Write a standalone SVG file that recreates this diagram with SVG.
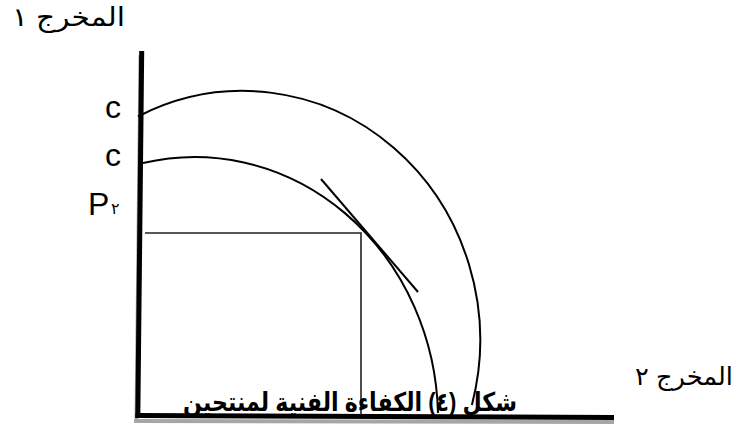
<svg xmlns="http://www.w3.org/2000/svg" width="753" height="429" viewBox="0 0 753 429">
<style>
.lbl{font-family:"Liberation Sans",Arial,sans-serif;fill:#000}
.ar{font-family:"Liberation Sans","DejaVu Sans",sans-serif;fill:#000}
.curve{fill:none;stroke:#000;stroke-width:2}
.thin{fill:none;stroke:#222;stroke-width:1.6}
</style>
<rect width="753" height="429" fill="#fff"/>
<g id="axes">
<line x1="140.5" y1="55" x2="136.5" y2="423" stroke="#a6a6a6" stroke-width="4"/>
<line x1="134" y1="421" x2="614" y2="422" stroke="#a6a6a6" stroke-width="4"/>
<line x1="141.7" y1="51" x2="137.8" y2="418" stroke="#000" stroke-width="5"/>
<line x1="135.5" y1="415.5" x2="614" y2="417.5" stroke="#000" stroke-width="5"/>
</g>
<g id="connectors">
<path class="curve" d="M138,116.5 A237.4,249 0 0 1 471.9,405"/>
<path class="curve" d="M143,163 A243.5,263 0 0 1 438,413"/>
<line class="curve" x1="321" y1="179" x2="418" y2="292"/>
<polyline class="thin" points="145,233 361,233 361,415"/>
</g>
<g id="labels">
<text class="lbl" x="105" y="118" font-size="32">c</text>
<text class="lbl" x="105" y="166" font-size="32">c</text>
<text class="lbl" x="88" y="215" font-size="32">P</text>
<text class="ar" x="111" y="214" font-size="16">٢</text>
<text class="ar" x="68.5" y="26" font-size="26" text-anchor="middle" direction="rtl" textLength="113" lengthAdjust="spacingAndGlyphs">المخرج ١</text>
<text class="ar" x="684" y="385" font-size="25" text-anchor="middle" direction="rtl" textLength="98" lengthAdjust="spacingAndGlyphs">المخرج ٢</text>
<text class="ar" x="350" y="411" font-size="26" font-weight="bold" text-anchor="middle" direction="rtl" textLength="334" lengthAdjust="spacingAndGlyphs">شكل (٤) الكفاءة الفنية لمنتجين</text>
</g>
</svg>
